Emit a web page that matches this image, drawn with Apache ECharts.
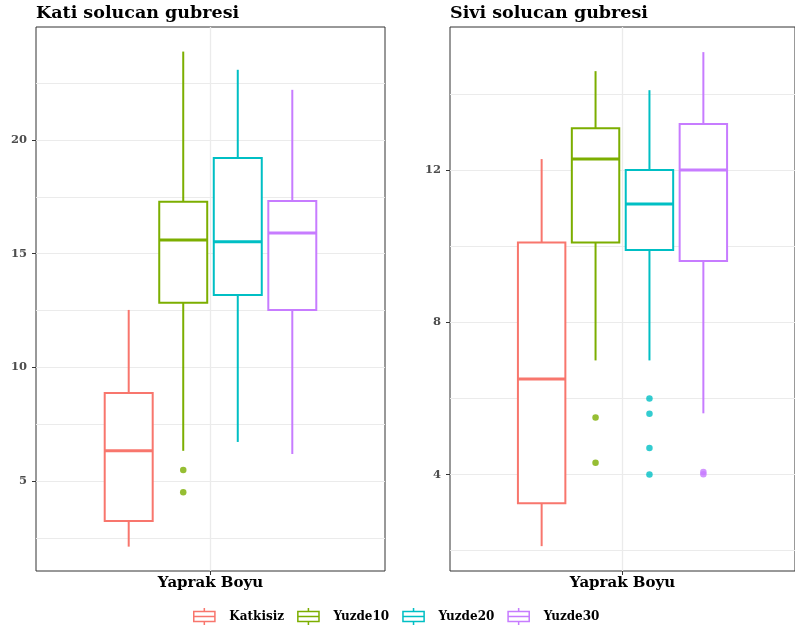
<!DOCTYPE html>
<html>
<head>
<meta charset="utf-8">
<script src="https://cdn.jsdelivr.net/npm/echarts@6/dist/echarts.min.js"></script>
<style>
  html, body { margin: 0; padding: 0; background: #ffffff; }
  #chart { width: 795px; height: 635px; }
</style>
</head>
<body>
<div id="chart"></div>
<script>
// ---------------- data ----------------
const groups = ['Katkisiz', 'Yuzde10', 'Yuzde20', 'Yuzde30'];
const groupColors = ['#F8766D', '#7CAE00', '#00BFC4', '#C77CFF'];
const panelTitles = ['Kati solucan gubresi', 'Sivi solucan gubresi'];
const xCategory = 'Yaprak Boyu';

// each row: [lower whisker, Q1, median, Q3, upper whisker]
const katiStats = [
  [2.13, 3.26, 6.34, 8.88, 12.53],
  [6.34, 12.84, 15.60, 17.28, 23.88],
  [6.73, 13.19, 15.52, 19.21, 23.08],
  [6.20, 12.53, 15.91, 17.32, 22.20]
];
const katiOutliers = [[], [5.5, 4.52], [], []];

const siviStats = [
  [2.12, 3.25, 6.51, 10.10, 12.29],
  [7.00, 10.10, 12.29, 13.10, 14.60],
  [7.00, 9.90, 11.11, 12.00, 14.10],
  [5.61, 9.61, 12.00, 13.21, 15.10]
];
const siviOutliers = [[], [5.5, 4.31], [6.0, 5.6, 4.7, 4.0], [4.07, 4.01]];

const katiTicks = [5, 10, 15, 20];
const katiGridVals = [2.5, 5, 7.5, 10, 12.5, 15, 17.5, 20, 22.5];
const siviTicks = [4, 8, 12];
const siviGridVals = [2, 4, 6, 8, 10, 12, 14];
const katiRange = [1.06, 24.96];
const siviRange = [1.467, 15.76];

// ---------------- layout / style ----------------
const FONT = 'DejaVu Serif';
const DODGE = [-0.28125, -0.09375, 0.09375, 0.28125];
const BOX_W = 0.165;
const LW = 2, MLW = 3;
const GRID_COLOR = '#EBEBEB';

const chart = echarts.init(document.getElementById('chart'), null, { renderer: 'canvas' });

function renderBox(params, api) {
  const x = api.value(0);
  const pMin = api.coord([x, api.value(1)]);
  const pQ1 = api.coord([x, api.value(2)]);
  const pMed = api.coord([x, api.value(3)]);
  const pQ3 = api.coord([x, api.value(4)]);
  const pMax = api.coord([x, api.value(5)]);
  const half = api.size([BOX_W, 0])[0] / 2;
  const color = api.visual('color');
  return {
    type: 'group',
    children: [
      { type: 'line', shape: { x1: pMin[0], y1: pMin[1], x2: pQ1[0], y2: pQ1[1] }, style: { stroke: color, lineWidth: LW } },
      { type: 'line', shape: { x1: pQ3[0], y1: pQ3[1], x2: pMax[0], y2: pMax[1] }, style: { stroke: color, lineWidth: LW } },
      { type: 'rect', shape: { x: pQ3[0] - half, y: pQ3[1], width: half * 2, height: pQ1[1] - pQ3[1] }, style: { fill: '#ffffff', stroke: color, lineWidth: LW } },
      { type: 'line', shape: { x1: pMed[0] - half, y1: pMed[1], x2: pMed[0] + half, y2: pMed[1] }, style: { stroke: color, lineWidth: MLW } }
    ]
  };
}

const grids = [
  { left: 36, top: 27, width: 349, height: 544 },
  { left: 450, top: 27, width: 350, height: 544 }
];

const xAxes = [0, 1].map(gi => ({
  gridIndex: gi,
  type: 'value',
  min: 0.4,
  max: 1.6,
  axisLine: { show: false },
  axisTick: { show: true, length: 4, customValues: [1], lineStyle: { color: '#333333', width: 1 } },
  axisLabel: {
    customValues: [1],
    formatter: () => xCategory,
    margin: 5,
    fontFamily: FONT, fontWeight: 'bold', fontSize: 15, color: '#000000'
  },
  splitLine: { show: true, lineStyle: { color: GRID_COLOR, width: 1.3 } }
}));

function yAxesFor(gi, range, gridVals, ticks) {
  return [
    {
      gridIndex: gi, type: 'value', min: range[0], max: range[1], position: 'left',
      axisLine: { show: false },
      axisTick: { show: false, customValues: gridVals },
      axisLabel: { show: false, customValues: gridVals },
      splitLine: { show: true, lineStyle: { color: GRID_COLOR, width: 1.2 } }
    },
    {
      gridIndex: gi, type: 'value', min: range[0], max: range[1], position: 'left', offset: 0,
      axisLine: { show: false },
      axisTick: { show: true, length: 4, customValues: ticks, lineStyle: { color: '#333333', width: 1 } },
      axisLabel: {
        customValues: ticks, margin: 9,
        fontFamily: FONT, fontWeight: 'bold', fontSize: 11.5, color: '#4D4D4D'
      },
      splitLine: { show: false }
    }
  ];
}
const yAxes = [].concat(
  yAxesFor(0, katiRange, katiGridVals, katiTicks),
  yAxesFor(1, siviRange, siviGridVals, siviTicks)
);

const series = [];
[[katiStats, katiOutliers], [siviStats, siviOutliers]].forEach(([stats, outs], pi) => {
  groups.forEach((g, i) => {
    const xPos = 1 + DODGE[i];
    series.push({
      type: 'custom',
      name: g,
      xAxisIndex: pi,
      yAxisIndex: pi * 2,
      color: groupColors[i],
      itemStyle: { color: groupColors[i] },
      renderItem: renderBox,
      encode: { x: 0, y: [1, 2, 3, 4, 5] },
      data: [[xPos].concat(stats[i])],
      z: 2
    });
    if (outs[i].length) {
      series.push({
        type: 'scatter',
        name: g,
        xAxisIndex: pi,
        yAxisIndex: pi * 2,
        symbol: 'circle',
        symbolSize: 6.5,
        itemStyle: { color: groupColors[i] },
        data: outs[i].map(v => [xPos, v]),
        z: 3
      });
    }
  });
});

const legendIcon = 'path://M0 3L24 3L24 15L0 15Z' +
  'M1.6 4.6L1.6 8.2L22.4 8.2L22.4 4.6Z' +
  'M1.6 9.8L1.6 13.4L22.4 13.4L22.4 9.8Z' +
  'M11.2 0L12.8 0L12.8 3L11.2 3Z' +
  'M11.2 15L12.8 15L12.8 18L11.2 18Z';

chart.setOption({
  animation: false,
  backgroundColor: '#ffffff',
  title: panelTitles.map((t, i) => ({
    text: t,
    left: i === 0 ? 36 : 450,
    top: 4,
    padding: 0,
    textStyle: { fontFamily: FONT, fontWeight: 'bold', fontSize: 17.5, color: '#000000' }
  })),
  legend: {
    left: 193,
    top: 608,
    itemWidth: 24,
    itemHeight: 17,
    itemGap: 13,
    padding: 0,
    data: groups.map((g, i) => ({
      name: g,
      icon: legendIcon,
      itemStyle: { color: groupColors[i], borderWidth: 0 }
    })),
    textStyle: { fontFamily: FONT, fontWeight: 'bold', fontSize: 12, color: '#000000', padding: [0, 0, 0, 8] }
  },
  grid: grids.map(g => Object.assign({ show: true, borderColor: '#333333', borderWidth: 1, backgroundColor: 'transparent' }, g)),
  xAxis: xAxes,
  yAxis: yAxes,
  series: series
});
</script>
</body>
</html>
